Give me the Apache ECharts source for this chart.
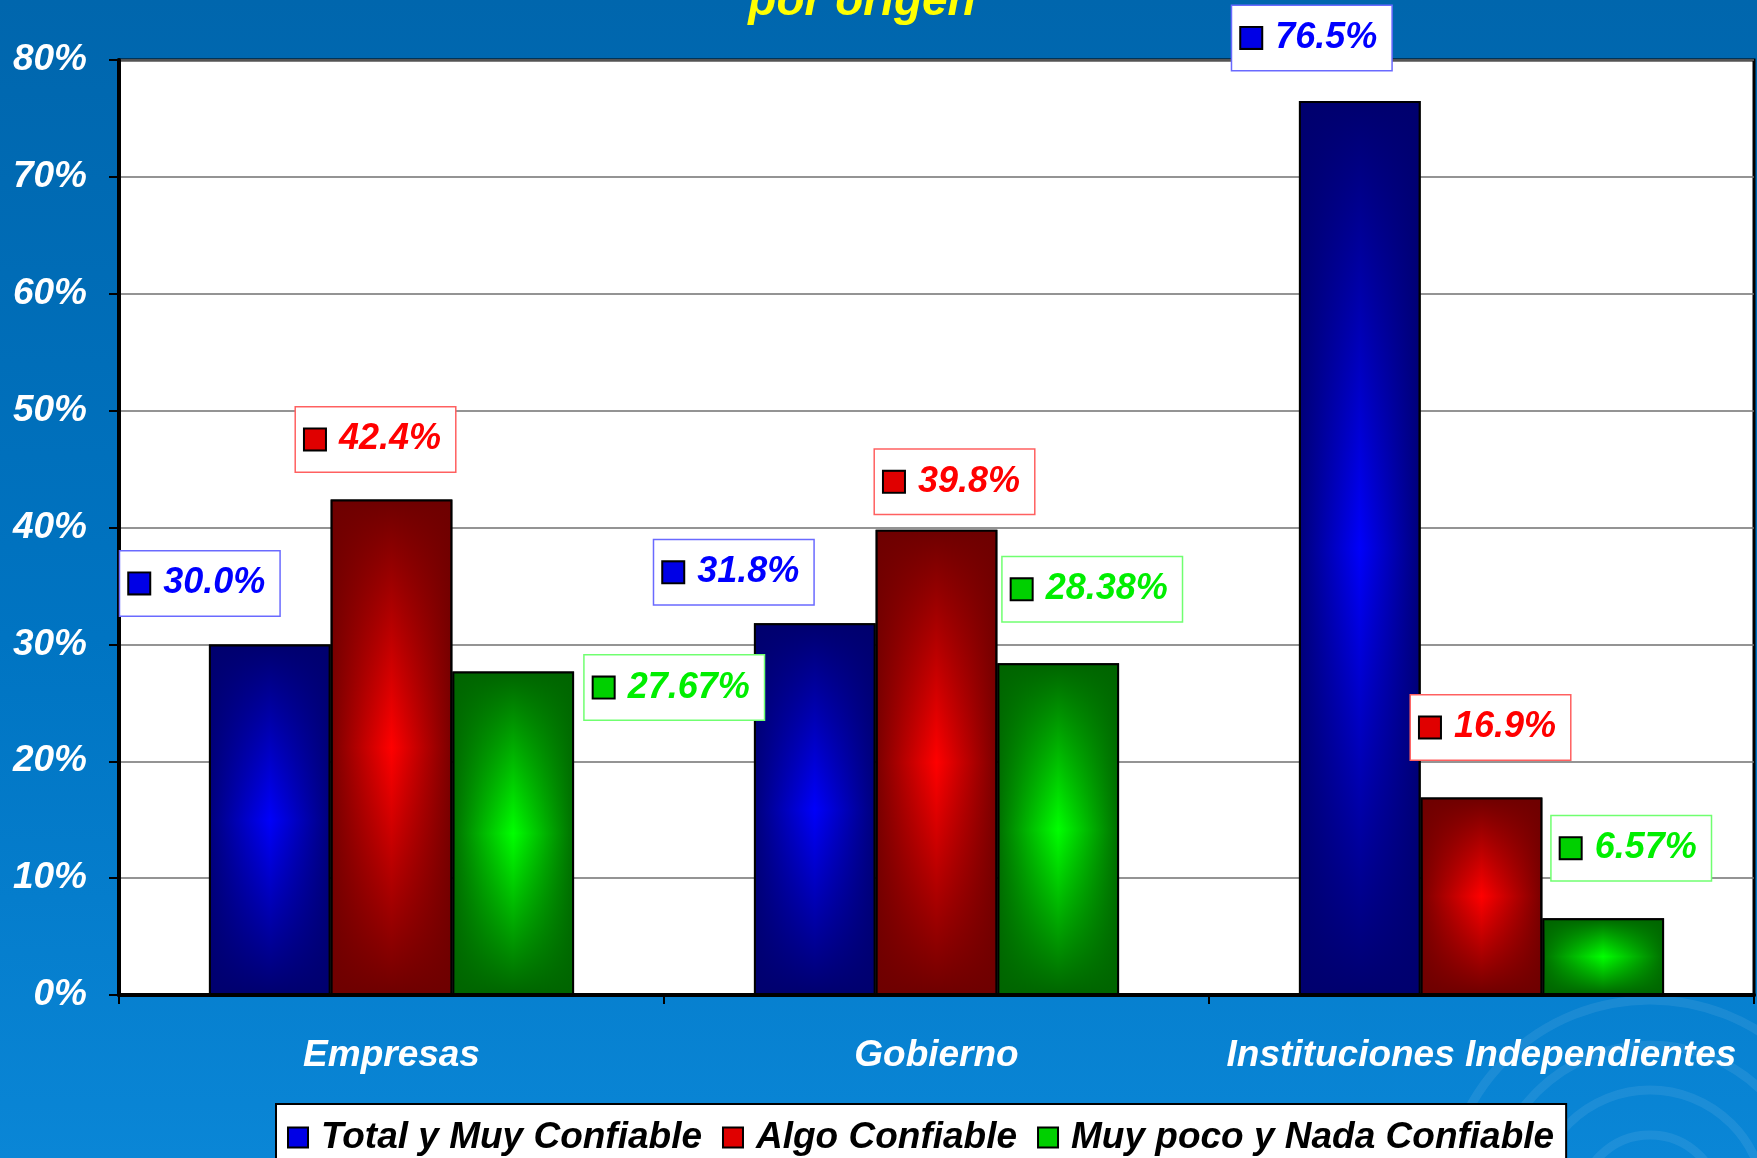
<!DOCTYPE html>
<html>
<head>
<meta charset="utf-8">
<script src="https://cdn.jsdelivr.net/npm/echarts@6/dist/echarts.min.js"></script>
<style>
  html, body { margin: 0; padding: 0; }
  #chart {
    width: 1757px;
    height: 1158px;
    background: linear-gradient(to bottom, #0066ad 0%, #0074c2 55%, #0a86d6 100%);
  }
</style>
</head>
<body>
<div id="chart"></div>
<script>
// datos
const categories = ['Empresas', 'Gobierno', 'Instituciones Independientes']
const seriesNames = ['Total y Muy Confiable', 'Algo Confiable', 'Muy poco y Nada Confiable']
const totalMuyConfiable = [30.0, 31.8, 76.5]
const algoConfiable = [42.4, 39.8, 16.9]
const muyPocoNadaConfiable = [27.67, 28.38, 6.57]
const labelDecimals = [1, 1, 2]

const FONT = '"Liberation Sans", Arial, sans-serif'

// posiciones manuales de las etiquetas (como en el original de Excel)
const labelOffsets = [
  [[-70, -29], [-81, -19], [-48, -31]],
  [[-16, -28], [18, -16], [9, -38]],
  [[161, 48], [34, -42], [28, -38]]
]

const palette = [
  { dark: '#00007a', bright: '#0000fa', icon: '#0000e6', text: '#0000ff', border: '#6a6aff', shade: '0,0,110' },
  { dark: '#780000', bright: '#ff0000', icon: '#e00000', text: '#ff0000', border: '#ff6060', shade: '110,0,0' },
  { dark: '#006e00', bright: '#00ff00', icon: '#00d000', text: '#00ee00', border: '#70ff70', shade: '0,100,0' }
]

const values = [totalMuyConfiable, algoConfiable, muyPocoNadaConfiable]

const chart = echarts.init(document.getElementById('chart'))

// barra base con degradado horizontal
const baseSeries = values.map((vals, i) => {
  const c = palette[i]
  return {
    name: seriesNames[i],
    type: 'bar',
    xAxisIndex: 0,
    barGap: '0%',
    barCategoryGap: '33%',
    z: 2,
    itemStyle: {
      color: {
        type: 'linear', x: 0, y: 0, x2: 1, y2: 0,
        colorStops: [
          { offset: 0, color: c.dark },
          { offset: 0.5, color: c.bright },
          { offset: 1, color: c.dark }
        ]
      },
      borderColor: '#000',
      borderWidth: 2
    },
    label: { show: false },
    data: vals
  }
})

// capa de sombreado vertical encima de cada barra (lleva las etiquetas)
const shadeSeries = values.map((vals, i) => {
  const c = palette[i]
  const s = c.shade
  return {
    name: seriesNames[i],
    type: 'bar',
    xAxisIndex: 1,
    barGap: '0%',
    barCategoryGap: '33%',
    silent: true,
    z: 3,
    itemStyle: {
      color: {
        type: 'linear', x: 0, y: 0, x2: 0, y2: 1,
        colorStops: [
          { offset: 0, color: 'rgba(' + s + ',1)' },
          { offset: 0.5, color: 'rgba(' + s + ',0)' },
          { offset: 1, color: 'rgba(' + s + ',1)' }
        ]
      },
      borderColor: '#000',
      borderWidth: 2
    },
    label: {
      show: true,
      position: 'top',
      distance: 0,
      formatter: (p) => '{icon|}{v|' + p.value.toFixed(labelDecimals[i]) + '%}',
      backgroundColor: '#fff',
      borderColor: c.border,
      borderWidth: 1.5,
      padding: [12, 14, 12, 9],
      rich: {
        icon: { width: 20, height: 20, backgroundColor: c.icon, borderColor: '#000', borderWidth: 2 },
        v: {
          color: c.text, fontSize: 36, fontWeight: 'bold', fontStyle: 'italic',
          fontFamily: FONT, padding: [0, 0, 0, 14], lineHeight: 40
        }
      }
    },
    data: vals.map((v, j) => ({ value: v, label: { offset: labelOffsets[i][j] } }))
  }
})

const option = {
  backgroundColor: 'transparent',
  animation: false,
  graphic: [
    {
      type: 'text', x: 862, y: 25, z: 10,
      style: {
        text: 'por origen', fill: '#ffff00', textAlign: 'center', textVerticalAlign: 'bottom',
        font: 'italic bold 46px ' + FONT
      }
    },
    ...[70, 115, 160, 205].map(r => ({
      type: 'circle', shape: { cx: 1650, cy: 1205, r: r }, z: -5, silent: true,
      style: { fill: 'none', stroke: 'rgba(255,255,255,0.08)', lineWidth: 9 }
    }))
  ],
  legend: {
    left: 276,
    top: 1104,
    padding: [15, 12, 40, 11],
    backgroundColor: '#fff',
    borderColor: '#000',
    borderWidth: 2,
    itemGap: 20,
    itemWidth: 20,
    itemHeight: 20,
    icon: 'rect',
    textStyle: {
      color: '#000', fontSize: 37, fontWeight: 'bold', fontStyle: 'italic',
      fontFamily: FONT, padding: [0, 0, 0, 8]
    },
    data: seriesNames.map((n, i) => ({
      name: n,
      itemStyle: { color: palette[i].icon, borderColor: '#000', borderWidth: 2 }
    }))
  },
  grid: {
    left: 119,
    right: 3,
    top: 60,
    bottom: 163,
    show: true,
    backgroundColor: '#fff',
    borderColor: '#000',
    borderWidth: 3
  },
  xAxis: [
    {
      type: 'category',
      data: categories,
      axisLine: { lineStyle: { color: '#000', width: 4 } },
      axisTick: { show: true, length: 9, lineStyle: { color: '#000', width: 2 } },
      axisLabel: {
        color: '#fff', fontSize: 37, fontWeight: 'bold', fontStyle: 'italic',
        fontFamily: FONT, margin: 42, interval: 0
      }
    },
    { type: 'category', data: categories, show: false }
  ],
  yAxis: {
    type: 'value',
    min: 0,
    max: 80,
    interval: 10,
    axisLine: { show: true, lineStyle: { color: '#000', width: 4 } },
    axisTick: { show: true, length: 10, lineStyle: { color: '#000', width: 2 } },
    splitLine: { lineStyle: { color: '#707070', width: 1.5 } },
    axisLabel: {
      formatter: '{value}%',
      color: '#fff', fontSize: 37, fontWeight: 'bold', fontStyle: 'italic',
      fontFamily: FONT, margin: 32, padding: [9, 0, 0, 0]
    }
  },
  series: [...baseSeries, ...shadeSeries]
}

chart.setOption(option)
</script>
</body>
</html>
